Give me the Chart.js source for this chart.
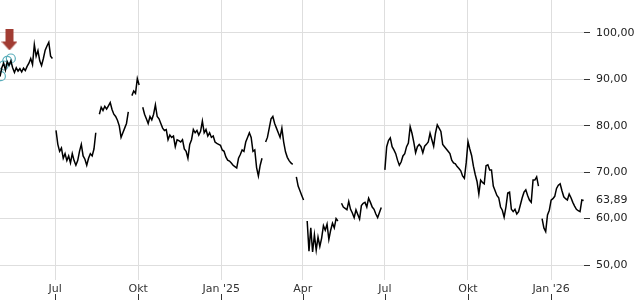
<!DOCTYPE html>
<html><head><meta charset="utf-8">
<script src="https://cdn.jsdelivr.net/npm/chart.js@4/dist/chart.umd.min.js"></script>
<style>html,body{margin:0;padding:0;background:#fff}#wrap{width:640px;height:300px;position:relative}</style>
</head><body><div id="wrap"><canvas id="c"></canvas></div>
<script>
// One close every STEP_DAYS calendar days, starting 2024-05-01 (day 0). null = no data (gap).
const STEP_DAYS = 2;
const closes = [
90.6,92.5,93.5,92,93.8,93,94,92.5,91.5,92.5,
91.8,92.3,91.6,92.4,91.9,92.8,93.5,94.5,93.2,97.5,
95,96.2,94,93,94.5,96.3,97.2,98,95,94.5,
null,79,76,74.5,75.2,73,74,72.5,73.5,72,
74,72.5,71.5,72.5,74.5,76,73.5,72.8,71.5,73,
74,73.5,75,78.5,null,82.5,84,83.3,84.2,83.6,
84.3,85,83.5,82.5,82,81.2,80,77.5,78.5,79.5,
80.5,83,null,86.5,87.5,87,90.2,88.8,null,84,
82.5,81.5,80.5,82,81.3,82.5,84.5,82,81.5,80.5,
79.5,79,79.2,77,78,77.5,77.8,75.5,77,76.8,
76.5,77,75,74.5,73,76,77,79.2,78.5,79,
78,78.8,81,78.5,79.2,77.8,78.5,77.5,77.8,76.5,
76.2,76,75.8,74.8,74.5,73.3,72.6,72.4,72,71.5,
71.2,70.9,73,73.8,74.8,74.5,76.5,77.5,78.5,77.5,
74.5,74.8,71,69.2,71.5,73,null,76.5,77.5,79.5,
81.5,82,80.5,79.5,78.5,77.5,79.5,76.5,74.4,73.2,
72.5,72,71.7,null,69,67,66,65,64,null,
59.5,53,58,52.8,56.5,53.2,56,54,55.8,58.5,
57.5,58.8,55.5,57.5,59,58,60,59.5,null,63.3,
62.5,62.2,61.9,63.7,62,61.2,60.2,61.9,60.9,59.9,
62.8,63.3,63.5,62.5,64.4,63.5,62.5,62,61,60.2,
61.3,62.4,null,70.5,75.5,76.8,77.4,75.5,74.8,74,
72.6,71.5,72.2,73.5,74,75.5,76.3,79.8,78.4,76.5,
74.2,75.5,76,75.5,74.2,75.6,76,76.5,78.4,77,
75.6,78.4,80.2,79.5,78.8,76,75.5,75,74.5,74,
72.6,72,71.8,71.2,70.8,70.3,69.2,68.7,72,76.6,
75,73.6,71.3,69.5,68,65.3,68.3,67.8,67.5,71.4,
71.6,70.5,70.5,67,66,65,64.5,62.5,61.8,60.3,
62.5,65.5,65.7,62,61.5,62,61,61.5,63,64.5,
65.7,66.2,65,64,63.5,68.3,68.3,69,67,null,
60,58,57.2,60.8,61.8,64,64.3,64.8,66.5,67.2,
67.5,66,64.7,64.3,64,65.3,64.5,63.5,62.7,62,
61.7,61.5,64,63.89
];
const tickDays = [61,153,245,335,426,518,610];
const tickLabels = ['Jul','Okt',"Jan '25",'Apr','Jul','Okt',"Jan '26"];
const yTickValues = [50,60,70,80,90,100];
const eventDays = [1,4,8,12];
const eventValues = [90.7,93,94,94.5];
const arrowDays = [10.5];
const arrowValues = [98.5];

const lastValue = closes[closes.length-1];
const fmt = v => v.toFixed(2).replace('.', ',');

const arrowImg = document.createElement('canvas');
arrowImg.width = 16; arrowImg.height = 21;
(function(){
  const g = arrowImg.getContext('2d');
  g.fillStyle = '#a13c33';
  g.fillRect(4,0,8,13);
  g.beginPath(); g.moveTo(0,12); g.lineTo(16,12); g.lineTo(8,21); g.closePath(); g.fill();
})();

const bottomTicks = {
  id:'bottomTicks',
  afterDraw(chart){
    const sx = chart.scales.x, ctx = chart.ctx;
    ctx.save(); ctx.strokeStyle = '#333'; ctx.lineWidth = 1;
    sx.ticks.forEach(t=>{
      const px = Math.round(sx.getPixelForValue(t.value)) + 0.5;
      ctx.beginPath(); ctx.moveTo(px, 294); ctx.lineTo(px, 300); ctx.stroke();
    });
    ctx.restore();
  }
};

function noPad(s){ s.paddingTop = 0; s.paddingBottom = 0; s.paddingLeft = 0; s.paddingRight = 0; }

Chart.defaults.font.family = "'DejaVu Sans', sans-serif";
Chart.defaults.font.size = 11;
Chart.defaults.color = '#333';

new Chart(document.getElementById('c'), {
  type:'line',
  data:{
    datasets:[
      {
        label:'Kurs',
        data: closes.map((v,i)=>({x:i*STEP_DAYS, y:v})),
        borderColor:'#000', borderWidth:1.5, pointRadius:0, tension:0, spanGaps:false, fill:false
      },
      {
        type:'scatter', label:'Events',
        data: eventDays.map((d,i)=>({x:d, y:eventValues[i]})),
        pointStyle:'circle', pointRadius:4.5, pointBorderColor:'#5aaebb', pointBackgroundColor:'rgba(0,0,0,0)', pointBorderWidth:1.2,
        clip:false
      },
      {
        type:'scatter', label:'Signal',
        data: arrowDays.map((d,i)=>({x:d, y:arrowValues[i]})),
        pointStyle: arrowImg, clip:false
      }
    ]
  },
  options:{
    responsive:true, maintainAspectRatio:false, animation:false,
    layout:{padding:0, autoPadding:false},
    plugins:{legend:{display:false}, tooltip:{enabled:false}},
    scales:{
      x:{
        type:'linear', min:0, max:646.4,
        border:{display:false},
        grid:{color:'#dedede', drawTicks:false},
        afterBuildTicks: s => { s.ticks = tickDays.map(v=>({value:v})); },
        afterFit: s => { s.height = 20; noPad(s); },
        ticks:{ autoSkip:false, maxRotation:0, padding:3, color:'#333',
          callback:(v)=>{ const k = tickDays.indexOf(v); return k>=0 ? tickLabels[k] : ''; } }
      },
      y:{
        position:'right', min:46.77, max:107.11,
        border:{display:false},
        afterBuildTicks: s => { s.ticks = yTickValues.concat([lastValue]).sort((a,b)=>a-b).map(v=>({value:v})); },
        afterFit: s => { s.width = 56; noPad(s); },
        grid:{
          color: c => (c.tick && c.tick.value === lastValue) ? 'rgba(0,0,0,0)' : '#dedede',
          tickColor: c => (c.tick && c.tick.value === lastValue) ? 'rgba(0,0,0,0)' : '#333',
          tickLength:6
        },
        ticks:{ autoSkip:false, padding:6, color:'#222', callback: v => fmt(v) }
      }
    }
  },
  plugins:[bottomTicks]
});
</script>
</body></html>
